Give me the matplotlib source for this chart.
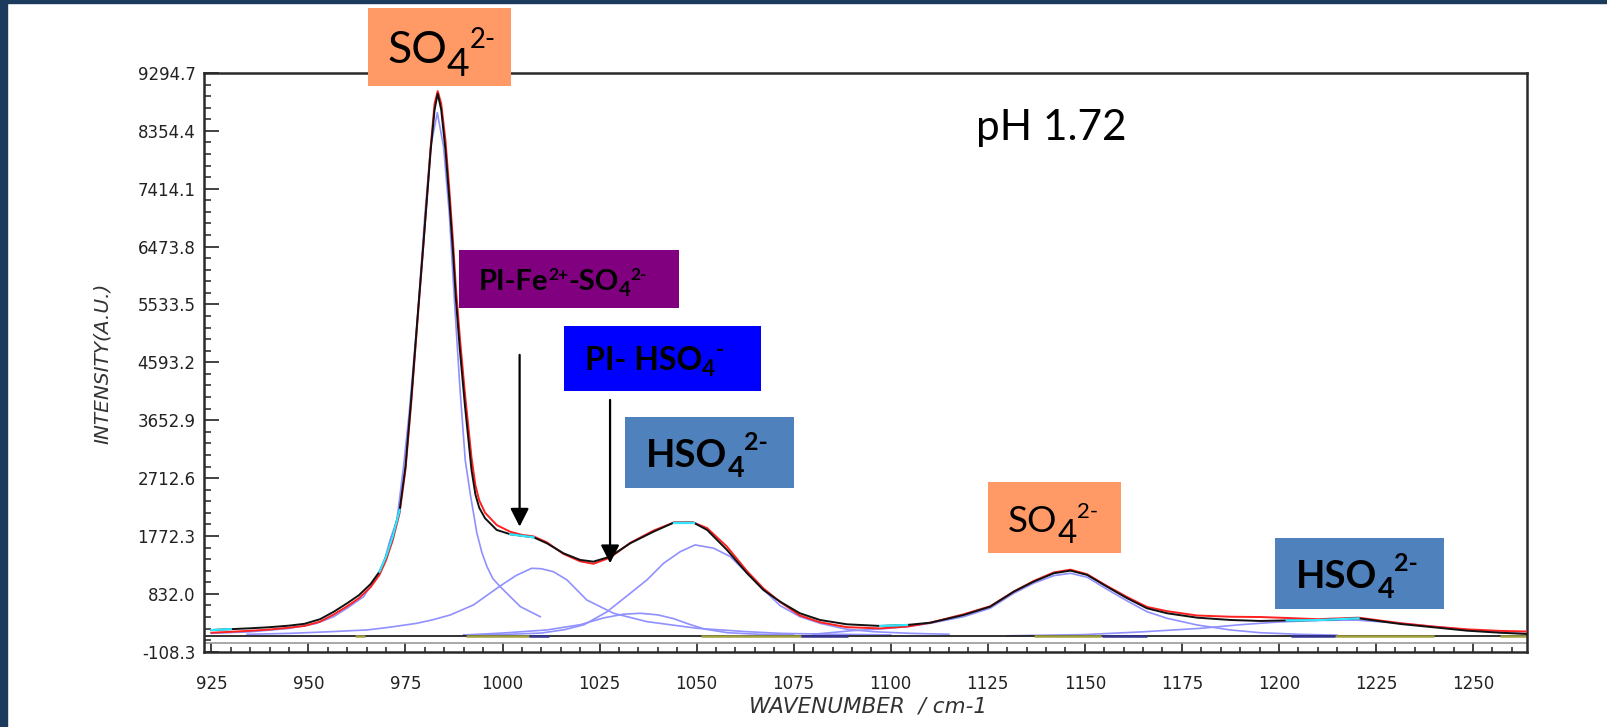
import matplotlib
matplotlib.use("Agg")
import matplotlib.pyplot as plt
from matplotlib.patches import Rectangle
from matplotlib.ticker import FixedLocator, MultipleLocator, AutoMinorLocator
from matplotlib.transforms import IdentityTransform

W, H = 1607, 727

# measured spectrum (black), fitted envelope (red), band components (lavender)
black_x = [925, 930, 935, 940, 945, 949, 953, 956.5, 960, 963, 966, 968.3, 970, 971.7, 973.5,
           975, 976.5, 978.2, 979.5, 980.5, 981.5, 982.5, 983.3, 984.2, 985.3, 986.3, 987.2,
           988, 989, 990.3, 992, 993, 994, 995.5, 998.5, 1002, 1005, 1008, 1011.4, 1015.7, 1020,
           1023.4, 1027.7, 1032.9, 1038.9, 1044.1, 1049.2, 1052.7, 1057.8, 1063, 1067.2,
           1071.5, 1076.6, 1081.8, 1088.7, 1097.3, 1104.2, 1110.2, 1118.8, 1125.6, 1131.7,
           1136.8, 1142, 1146.3, 1150.6, 1155.7, 1160.9, 1166, 1171.2, 1178.9, 1187.5, 1195.2,
           1202, 1210, 1220.5, 1231.3, 1239.9, 1248.5, 1257, 1263.9]
black_y = [244, 258, 272, 290, 315, 345, 420, 540, 680, 810, 990, 1192, 1436, 1761, 2195,
           2900, 4018, 5400, 6422, 7233, 8046, 8700, 8960, 8700, 8046, 7233, 6422,
           5608, 4800, 3900, 2850, 2450, 2230, 2060, 1870, 1800, 1775, 1750, 1654, 1491, 1383,
           1355, 1436, 1654, 1842, 1989, 1989, 1870, 1546, 1166, 895,
           705, 516, 407, 337, 310, 326, 363, 488, 623, 867,
           1030, 1166, 1209, 1139, 948, 760, 597, 516, 445, 407, 391,
           400, 405, 434, 342, 288, 233, 200, 180]

red_x = black_x
red_y = [200, 215, 232, 252, 282, 310, 380, 495, 630, 760, 940, 1140, 1380, 1700, 2150,
         2850, 3950, 5350, 6400, 7250, 8100, 8800, 9000, 8800, 8200, 7400, 6600,
         5800, 5000, 4100, 3050, 2600, 2350, 2150, 1950, 1840, 1790, 1765, 1670, 1480, 1360,
         1320, 1420, 1660, 1860, 1990, 1990, 1900, 1600, 1200, 920,
         700, 480, 370, 290, 270, 300, 363, 500, 630, 870,
         1040, 1180, 1225, 1150, 960, 780, 620, 550, 480, 460, 455,
         440, 420, 445, 355, 300, 255, 230, 220]

comp1_x = [925, 935, 945, 952, 956.5, 960, 964.2, 967, 969.3, 971, 972.8, 974.5, 976, 978.2,
           980, 981.5, 983.2, 984.8, 986.3, 987.6, 989, 990.4, 991.7, 993.4, 994.7, 996,
           997.5, 999.4, 1004.6, 1009.7]
comp1_y = [190, 215, 270, 350, 461, 600, 786, 1050, 1301, 1700, 2033, 2900, 3800, 5400,
           7000, 8100, 8650, 8100, 7000, 5600, 4200, 3000, 2450, 1816, 1500, 1273,
           1080, 948, 623, 461]

comp2_x = [934.2, 945.3, 955, 965.1, 971, 977.9, 982, 986.5, 992.5, 999.4, 1003.5, 1007.5,
           1010, 1013.1, 1016.6, 1021.7, 1028.6, 1037.2, 1050.1, 1063, 1071.5, 1085, 1100]
comp2_y = [174, 190, 215, 245, 290, 353, 410, 488, 651, 960, 1130, 1247,
           1240, 1192, 1058, 732, 516, 380, 272, 217, 190, 175, 165]

comp3_x = [990, 1000, 1011.4, 1020, 1026, 1031, 1035.5, 1040, 1044, 1048, 1052, 1058, 1066, 1075]
comp3_y = [163, 195, 245, 330, 440, 500, 516, 490, 430, 340, 260, 200, 175, 165]

comp4_x = [990, 1000, 1010, 1016, 1021, 1026.9, 1032.9, 1037.2, 1041.5, 1045.8, 1049.6, 1054.4,
           1058.7, 1063, 1067.3, 1071.5, 1076.6, 1081.8, 1088.7, 1095.5, 1105, 1115]
comp4_y = [163, 170, 195, 250, 330, 540, 841, 1058, 1329, 1518, 1627, 1573,
           1436, 1166, 895, 640, 461, 353, 256, 217, 190, 175]

comp5_x = [1080, 1090, 1097, 1104.2, 1110.2, 1118.8, 1125.6, 1131.7, 1136.8, 1142, 1146.3,
           1150.6, 1155.7, 1160.9, 1166, 1171.2, 1178.9, 1187.5, 1195.2, 1205, 1215]
comp5_y = [175, 233, 260, 298, 353, 461, 597, 841, 1004, 1127, 1166,
           1101, 906, 716, 542, 434, 326, 245, 200, 175, 160]

comp6_x = [1130, 1150, 1165, 1180, 1190, 1200, 1210, 1220, 1231, 1240, 1248.5, 1257, 1263.9]
comp6_y = [150, 170, 215, 272, 330, 375, 400, 405, 355, 300, 250, 205, 185]

components = [(comp1_x, comp1_y), (comp2_x, comp2_y), (comp3_x, comp3_y),
              (comp4_x, comp4_y), (comp5_x, comp5_y), (comp6_x, comp6_y)]

baseline = 147
olive_spans = [(962, 964.5), (990.5, 1006.7), (1051, 1077), (1136.8, 1154.2), (1214.5, 1240), (1257, 1264)]
navy_spans = [(1006.7, 1012), (1077, 1089), (1154.4, 1166), (1203, 1214.5)]
cyan_spans = [(925, 930), (968, 974), (1002, 1009), (1043, 1050), (1097, 1105), (1201, 1221)]

x_ticks = [925, 950, 975, 1000, 1025, 1050, 1075, 1100, 1125, 1150, 1175, 1200, 1225, 1250]
y_ticks = [-108.3, 832.0, 1772.3, 2712.6, 3652.9, 4593.2, 5533.5, 6473.8, 7414.1, 8354.4, 9294.7]
y_tick_labels = ["-108.3", "832.0", "1772.3", "2712.6", "3652.9", "4593.2",
                 "5533.5", "6473.8", "7414.1", "8354.4", "9294.7"]

# arrows: (wavenumber, tip intensity, tail intensity)
arrows = [(1004.4, 1924, 4715), (1027.7, 1329, 3983)]

fig = plt.figure(figsize=(W / 100, H / 100), dpi=100)
fig.patch.set_facecolor("white")
ax = fig.add_axes([204 / W, 1 - 651.7 / H, (1527 - 204) / W, (651.7 - 73) / H])
ax.set_xlim(923.1, 1263.9)
ax.set_ylim(-108.3, 9294.7)

lav = "#9090ff"
for cx, cy in components:
    ax.plot(cx, cy, color=lav, lw=1.2, zorder=2)

ax.axhline(baseline, color="#222222", lw=1.3, zorder=2)
for a, b in olive_spans:
    ax.plot([a, b], [baseline, baseline], color="#a0a040", lw=1.8, zorder=2.5, solid_capstyle="butt")
for a, b in navy_spans:
    ax.plot([a, b], [baseline, baseline], color="#33338f", lw=1.8, zorder=2.5, solid_capstyle="butt")
ax.plot([0, 1], [0.015, 0.015], transform=ax.transAxes, color="#9a9a9a", lw=1.2, zorder=2)

ax.plot(red_x, red_y, color="#ff2020", lw=1.4, zorder=3)
ax.plot(black_x, black_y, color="#111111", lw=1.4, zorder=4)
for a, b in cyan_spans:
    sx = [x for x in black_x if a <= x <= b]
    sy = [y for x, y in zip(black_x, black_y) if a <= x <= b]
    ax.plot(sx, sy, color="#33e5ff", lw=1.6, zorder=5)

for xv, tip, tail in arrows:
    ax.annotate("", xy=(xv, tip), xytext=(xv, tail),
                arrowprops=dict(arrowstyle="-|>,head_length=0.55,head_width=0.28",
                                color="black", lw=1.6, shrinkA=0, shrinkB=0,
                                mutation_scale=20), zorder=6)

ax.xaxis.set_major_locator(FixedLocator(x_ticks))
ax.xaxis.set_minor_locator(MultipleLocator(5))
ax.yaxis.set_major_locator(FixedLocator(y_ticks))
ax.yaxis.set_minor_locator(AutoMinorLocator(5))
ax.set_yticklabels(y_tick_labels)
ax.tick_params(axis="x", which="major", direction="in", length=6.5, width=1.2, pad=17,
               labelsize=12, colors="#222222")
ax.tick_params(axis="x", which="minor", direction="in", length=3.6, width=1.1, colors="#222222")
ax.tick_params(axis="y", which="major", direction="in", length=11, width=1.2, pad=6,
               labelsize=12, colors="#222222")
ax.tick_params(axis="y", which="minor", direction="in", length=5, width=1.1, colors="#222222")
for s in ax.spines.values():
    s.set_color("#2a2a2a")
    s.set_linewidth(1.8)

fig.text(868 / W, 1 - 707 / H, "WAVENUMBER  / cm-1", ha="center", va="center",
         fontsize=15.5, style="italic", color="#333333")
fig.text(102 / W, 1 - 363 / H, "INTENSITY(A.U.)", ha="center", va="center",
         rotation=90, fontsize=14.5, style="italic", color="#333333")

# navy slide frame
fig.patches.append(Rectangle((0, 0), 7 / W, 1, transform=fig.transFigure, color="#1b3a5c", zorder=10))
fig.patches.append(Rectangle((0, 1 - 3 / H), 1, 3 / H, transform=fig.transFigure, color="#1b3a5c", zorder=10))

fig.canvas.draw()
rend = fig.canvas.get_renderer()


def box(x0, y0, x1, y1, color):
    fig.patches.append(Rectangle((x0, H - y1), x1 - x0, y1 - y0, transform=IdentityTransform(),
                                 facecolor=color, edgecolor="none", zorder=11))


def chem(x, y, parts, size, weight):
    # parts: (text, size factor, baseline shift in em)
    cur = x
    for txt, f, dy in parts:
        t = fig.text(cur, H - y + dy * size * 100 / 72, txt, transform=IdentityTransform(),
                     fontsize=size * f, fontweight=weight, family="Lato", color="black",
                     ha="left", va="baseline", zorder=12)
        cur = t.get_window_extent(rend).x1


box(368, 8, 511, 86, "#ff9966")
chem(387, 63, [("SO", 1, 0), ("4", 0.88, -0.3), ("2-", 0.62, 0.34)], 32, "normal")

box(459, 250, 679, 308, "#800080")
chem(479, 290, [("PI-Fe", 1, 0), ("2+", 0.6, 0.33), ("-SO", 1, 0), ("4", 0.7, -0.2), ("2-", 0.6, 0.33)], 21, "bold")

box(564, 326, 761, 391, "#0000ff")
chem(585, 370, [("PI- HSO", 1, 0), ("4", 0.7, -0.2), ("-", 0.7, 0.4)], 23, "bold")

box(625, 417, 794, 488, "#4f81bd")
chem(646, 467, [("HSO", 1, 0), ("4", 0.75, -0.25), ("2-", 0.65, 0.45)], 27.5, "bold")

box(988, 482, 1121, 553, "#ff9966")
chem(1008, 532, [("SO", 1, 0), ("4", 0.9, -0.3), ("2-", 0.6, 0.38)], 26.5, "normal")

box(1275, 538, 1444, 609, "#4f81bd")
chem(1296, 588, [("HSO", 1, 0), ("4", 0.75, -0.25), ("2-", 0.65, 0.45)], 27.5, "bold")

fig.text(976, H - 140, "pH 1.72", transform=IdentityTransform(), fontsize=30.5,
         family="Lato", color="black", ha="left", va="baseline")

fig.savefig("out.png", dpi=100)
